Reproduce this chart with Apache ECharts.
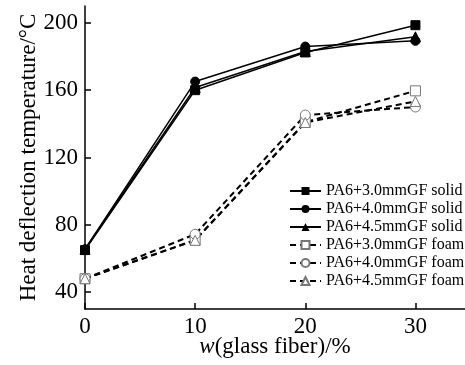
<!DOCTYPE html>
<html><head><meta charset="utf-8">
<script src="https://cdn.jsdelivr.net/npm/echarts@6/dist/echarts.min.js"></script>
<style>html,body{margin:0;padding:0;background:#fff}#c{width:465px;height:365px}</style>
</head><body><div id="c"></div>
<script>
const xValues = [0, 10, 20, 30];
const xTicks = [0, 10, 20, 30];
const yTicks = [40, 80, 120, 160, 200];
const solid30 = [65, 160, 182.4, 198.6];
const solid40 = [65.5, 165.1, 185.9, 189.3];
const solid45 = [65.5, 161.6, 183, 191.7];
const foam30 = [48, 71, 141, 159.6];
const foam40 = [48, 74.4, 145.2, 150];
const foam45 = [48, 70.8, 140.8, 153.3];
const names = ['PA6+3.0mmGF solid','PA6+4.0mmGF solid','PA6+4.5mmGF solid','PA6+3.0mmGF foam','PA6+4.0mmGF foam','PA6+4.5mmGF foam'];

const font = 'Liberation Serif, Times New Roman, serif';
const pair = a => xValues.map((x, i) => [x, a[i]]);
function solid(name, data, sym) {
  return {name, type:'line', data: pair(data), symbol: sym, symbolSize: sym==='triangle'?10:9,
    lineStyle:{color:'#000', width:1.5}, itemStyle:{color:'#000', borderColor:'#000'}, z:3};
}
function foam(name, data, sym) {
  return {name, type:'line', data: pair(data), symbol: sym, symbolSize: 10,
    lineStyle:{color:'#000', width:2, type:[6,4]}, itemStyle:{color:'#fff', borderColor:'#777', borderWidth:1}, z:2};
}
const chart = echarts.init(document.getElementById('c'), null, {renderer:'canvas'});
chart.setOption({
  animation:false,
  backgroundColor:'#fff',
  grid:{left:85, right:0, top:6, bottom:56},
  legend:{orient:'vertical', left:289, top:183, padding:0, itemWidth:31, itemHeight:10, itemGap:2,
    textStyle:{fontFamily:font, fontSize:16, color:'#000'}, data:names},
  xAxis:{type:'value', min:0, max:34.5,
    name:'{i|w}(glass fiber)/%', nameLocation:'middle', nameGap:26, nameMoveOverlap:false,
    nameTextStyle:{fontFamily:font, fontSize:23, color:'#000',
      rich:{i:{fontFamily:font, fontSize:23, fontStyle:'italic', color:'#000'}}},
    axisLine:{lineStyle:{color:'#000', width:1.5}},
    axisTick:{inside:true, length:6, customValues:xTicks, lineStyle:{color:'#000', width:1.5}},
    axisLabel:{customValues:xTicks, fontFamily:font, fontSize:23, color:'#000', margin:6},
    splitLine:{show:false}},
  yAxis:{type:'value', min:30, max:210,
    name:'Heat deflection temperature/°C', nameLocation:'middle', nameGap:45, nameMoveOverlap:false,
    nameTextStyle:{fontFamily:font, fontSize:23, color:'#000'},
    axisLine:{show:true, lineStyle:{color:'#000', width:1.5}},
    axisTick:{show:true, inside:true, length:6, customValues:yTicks, lineStyle:{color:'#000', width:1.5}},
    axisLabel:{customValues:yTicks, fontFamily:font, fontSize:23, color:'#000', margin:7},
    splitLine:{show:false}},
  series:[
    solid(names[0], solid30, 'rect'),
    solid(names[1], solid40, 'circle'),
    solid(names[2], solid45, 'triangle'),
    foam(names[3], foam30, 'rect'),
    foam(names[4], foam40, 'circle'),
    foam(names[5], foam45, 'triangle')
  ]
});
</script></body></html>
